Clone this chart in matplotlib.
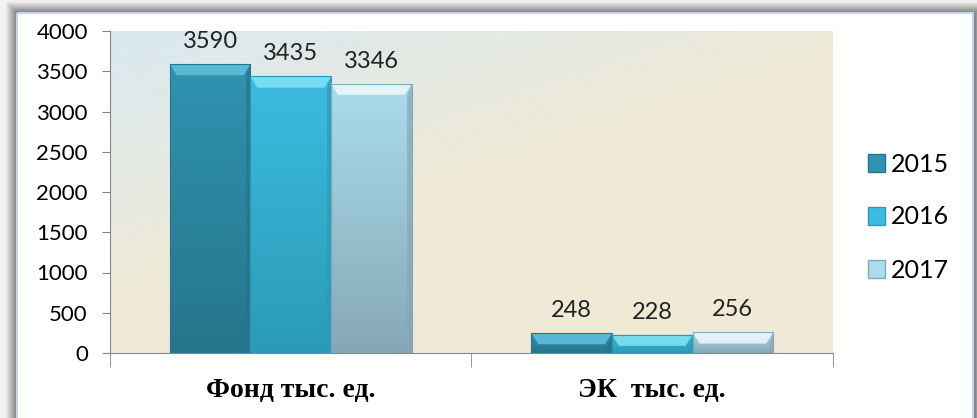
import numpy as np
import matplotlib
matplotlib.use("Agg")
import matplotlib.pyplot as plt
from matplotlib.patches import Rectangle, Polygon
from matplotlib.colors import to_rgb

categories = ["Фонд тыс. ед.", "ЭК  тыс. ед."]
years = ["2015", "2016", "2017"]
values = {
    "2015": [3590, 248],
    "2016": [3435, 228],
    "2017": [3346, 256],
}
# top colour, bottom colour, bevel colour
colors = {
    "2015": ("#2f93b1", "#26758a", "#5fc3dd"),
    "2016": ("#3cbce0", "#2a9bb6", "#84e2f5"),
    "2017": ("#aadcec", "#86a8b6", "#eef9fc"),
}

W, H = 977, 418
fig = plt.figure(figsize=(W / 100, H / 100), dpi=100)

# frame with shadow
bg = fig.add_axes([0, 0, 1, 1])
bg.set_axis_off()
yy, xx = np.mgrid[0:H, 0:W]
px0, py0, px1 = 17, 13, 973
dist = np.maximum.reduce([px0 - xx, py0 - yy, xx - px1, np.zeros_like(xx)])
shade = np.clip(0.47 + dist * 0.04, 0.47, 0.95)
img = np.dstack([shade] * 3)
img[(xx >= px0) & (xx <= px1) & (yy >= py0)] = 1.0
bg.imshow(img, extent=(0, W, H, 0), aspect="auto")
bg.add_patch(Rectangle((px0, py0), px1 - px0, H - py0 + 2, fill=False,
                       edgecolor="#c3d6ee", lw=1.5))
bg.set_xlim(0, W)
bg.set_ylim(H, 0)

ax = fig.add_axes([110 / W, 65 / H, 723 / W, 322 / H])
ax.set_zorder(2)

# plot area gradient
gx = np.linspace(0, 1, 200)
gy = np.linspace(0, 1, 100)
GX, GY = np.meshgrid(gx, gy)
t = np.clip((GX * 0.9 + GY * 1.2) / 1.0, 0, 1)
c0 = np.array(to_rgb("#d9e9f1"))
c1 = np.array(to_rgb("#efe9d6"))
grad = c0[None, None, :] * (1 - t[..., None]) + c1[None, None, :] * t[..., None]
ax.imshow(grad, extent=(0, 2, 0, 4000), origin="upper", aspect="auto", zorder=0)

width = 0.223
x = np.arange(len(categories)) + 0.5
offsets = [-width, 0, width]

ppx = 2 / 723.0
ppy = 4000 / 322.0
bev = 7

for yr, off in zip(years, offsets):
    top, bot, bvl = colors[yr]
    bars = ax.bar(x + off, values[yr], width, color=top, edgecolor="none", zorder=2)
    for b, v in zip(bars, values[yr]):
        x0, w, h = b.get_x(), b.get_width(), b.get_height()
        ct, cb = np.array(to_rgb(top)), np.array(to_rgb(bot))
        s = np.linspace(0, 1, 64)[:, None]
        g = (ct * (1 - s) + cb * s)[:, None, :]
        im = ax.imshow(g, extent=(x0, x0 + w, 0, h), origin="upper",
                       aspect="auto", zorder=2)
        im.set_clip_path(b)
        dx, dy = bev * ppx, bev * ppy * 1.6
        ax.add_patch(Polygon([(x0, h), (x0 + w, h), (x0 + w - dx, h - dy),
                              (x0 + dx, h - dy)], closed=True,
                             facecolor=bvl, edgecolor="none", alpha=0.85, zorder=3))
        ax.add_patch(Polygon([(x0 + w, h), (x0 + w, 0), (x0 + w - dx * 0.6, 0),
                              (x0 + w - dx * 0.6, h - dy)], closed=True,
                             facecolor=bot, edgecolor="none", alpha=0.7, zorder=3))
        ax.add_patch(Rectangle((x0, 0), w, h, fill=False, edgecolor=bot,
                               lw=0.8, zorder=3))
        ax.text(b.get_x() + w / 2, h + 150, str(v), ha="center", va="bottom",
                fontsize=17, family="Lato", color="#222222", zorder=4)

ax.set_xlim(0, 2)
ax.set_ylim(0, 4000)
ax.set_yticks(np.arange(0, 4001, 500))
ax.tick_params(axis="y", labelsize=16, length=6, color="#868686", pad=10)
for lb in ax.get_yticklabels():
    lb.set_family("Lato")
ax.set_xticks(x)
ax.set_xticklabels(categories, fontsize=20, fontweight="bold",
                   family="Liberation Serif")
ax.tick_params(axis="x", length=0, pad=18)
ax.set_xticks([0, 1, 2], minor=True)
ax.tick_params(axis="x", which="minor", length=10, color="#868686")
for sp in ["top", "right"]:
    ax.spines[sp].set_visible(False)
ax.spines["left"].set_color("#868686")
ax.spines["bottom"].set_color("#868686")

handles = [Rectangle((0, 0), 1, 1, facecolor=colors[yr][0], edgecolor=colors[yr][1])
           for yr in years]
fig.legend(handles, years, loc="center left", bbox_to_anchor=(845 / W, 1 - 217 / H),
           frameon=False, handlelength=0.7, handleheight=0.7, handletextpad=0.25,
           labelspacing=1.2, prop={"family": "Lato", "size": 18})

fig.savefig("out.png", dpi=100)
